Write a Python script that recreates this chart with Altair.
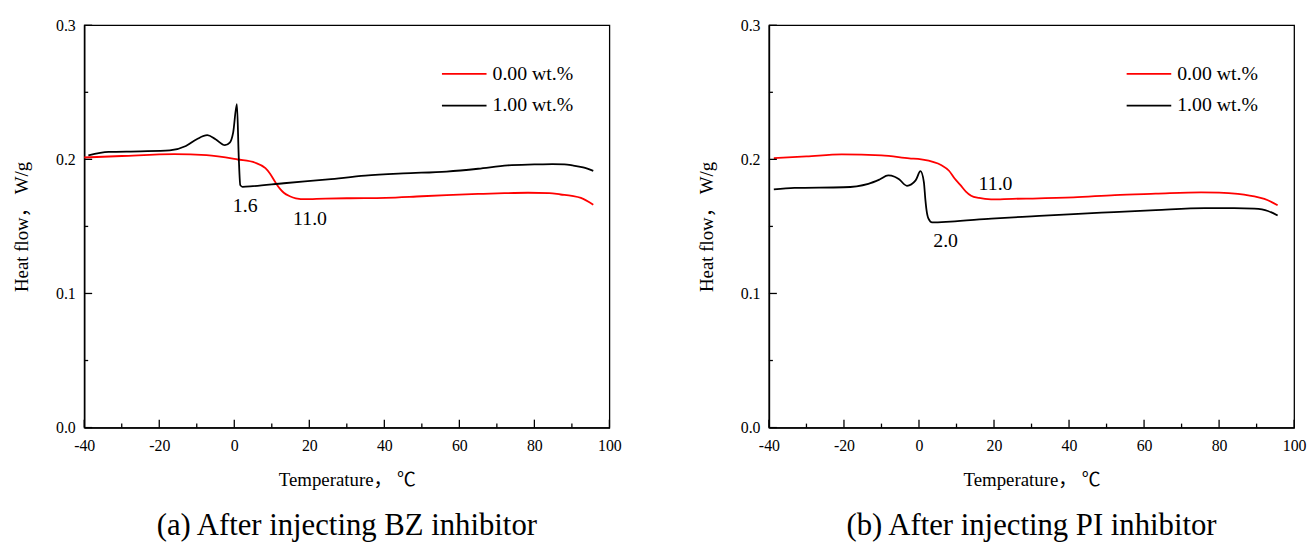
import altair as alt
import pandas as pd

series_names = ["0.00 wt.%", "1.00 wt.%"]
series_colors = ["#ff0000", "#000000"]

# ---- Panel (a): After injecting BZ inhibitor ----
a_red_t = [-40, -30, -16, -7.4, 0.9, 5.6, 8.3, 9.5, 11.0, 12.2, 13.2, 14.8, 16.4, 19, 21.9, 30, 40.3, 50, 56.6, 65, 72, 78.3, 84, 87.0, 90, 92.4, 95.7]
a_red_v = [0.2014, 0.2025, 0.2039, 0.2031, 0.1999, 0.1975, 0.1934, 0.1895, 0.1827, 0.1780, 0.1751, 0.1725, 0.1710, 0.1703, 0.1705, 0.1710, 0.1713, 0.1725, 0.1733, 0.1742, 0.1748, 0.1751, 0.1748, 0.1738, 0.1728, 0.1713, 0.1662]
a_blk_t = [-38.9, -33.5, -25, -17.2, -12.9, -10, -7.2, -5, -2.5, -1.2, -0.3, 0.7, 1.2, 1.6, 2.2, 5, 13.2, 25, 34.9, 45, 56.6, 65, 72.9, 80, 84.8, 88, 90.2, 93, 95.7]
a_blk_v = [0.2030, 0.2056, 0.2060, 0.2067, 0.2100, 0.2150, 0.2180, 0.2150, 0.2106, 0.2125, 0.2200, 0.2411, 0.2010, 0.1808, 0.1795, 0.1800, 0.1822, 0.1850, 0.1878, 0.1895, 0.1909, 0.1930, 0.1955, 0.1962, 0.1965, 0.1963, 0.1955, 0.1940, 0.1914]
a_ann_t = [2.9, 20.2]
a_ann_v = [0.1649, 0.1552]
a_ann_txt = ["1.6", "11.0"]
a_caption = "(a) After injecting BZ inhibitor"

# ---- Panel (b): After injecting PI inhibitor ----
b_red_t = [-38.7, -30, -20.6, -10, -2.6, 0.6, 6.0, 8, 9.5, 11, 12.5, 13.9, 16, 19.2, 25, 30.3, 41.2, 52.2, 63.1, 75.2, 80, 85.0, 90.5, 93, 95.6]
b_red_v = [0.2010, 0.2022, 0.2037, 0.2030, 0.2008, 0.2000, 0.1956, 0.1915, 0.1857, 0.1810, 0.1760, 0.1729, 0.1712, 0.1702, 0.1706, 0.1708, 0.1716, 0.1734, 0.1744, 0.1754, 0.1752, 0.1742, 0.1716, 0.1695, 0.1658]
b_blk_t = [-38.7, -33.2, -20.1, -13.5, -10.5, -8.2, -6.5, -5.3, -3.2, -0.9, 0.4, 1.3, 1.7, 2.0, 2.5, 3.5, 8.4, 19.3, 30, 41.2, 52, 63.1, 76.2, 84, 89.4, 93, 95.6]
b_blk_v = [0.1776, 0.1787, 0.1792, 0.1818, 0.1850, 0.1880, 0.1870, 0.1851, 0.1803, 0.1843, 0.1912, 0.1831, 0.1700, 0.1623, 0.1560, 0.1530, 0.1536, 0.1558, 0.1575, 0.1592, 0.1607, 0.1622, 0.1637, 0.1637, 0.1632, 0.1615, 0.1581]
b_ann_t = [20.4, 7.1]
b_ann_v = [0.1818, 0.1393]
b_ann_txt = ["11.0", "2.0"]
b_caption = "(b) After injecting PI inhibitor"

x_major = [-40, -20, 0, 20, 40, 60, 80, 100]
x_minor = [-30, -10, 10, 30, 50, 70, 90]
y_major = [0.0, 0.1, 0.2, 0.3]
y_minor = [0.05, 0.15, 0.25]

W, H = 530, 406
FONT = "Liberation Serif"
FONT_T = "Liberation Serif, Noto Sans CJK SC"

AXIS_STYLE = dict(
    domainColor="black", domainWidth=1.5, tickSize=0, grid=False,
    labelFont=FONT, labelFontSize=16, labelColor="black", labelFlush=False,
    titleFont=FONT_T, titleFontSize=19, titleFontWeight="normal", titleColor="black",
)


def x_enc():
    return alt.X(
        "T:Q",
        scale=alt.Scale(domain=[-40, 100], nice=False, zero=False),
        axis=alt.Axis(values=x_major, labelExpr="'' + datum.value", title="Temperature，  ℃",
                      labelPadding=10, titlePadding=17, **AXIS_STYLE),
    )


def y_enc():
    return alt.Y(
        "HF:Q",
        scale=alt.Scale(domain=[0, 0.3], nice=False),
        axis=alt.Axis(values=y_major, format=".1f", title="Heat flow，  W/g",
                      labelPadding=9, titlePadding=24, **AXIS_STYLE),
    )


def legend_row(name, color, ypix):
    d = pd.DataFrame({"series": [name]})
    line = alt.Chart(d).mark_rule(color=color, strokeWidth=1.8).encode(
        x=alt.value(361), x2=alt.value(406), y=alt.value(ypix))
    txt = alt.Chart(d).mark_text(font=FONT, fontSize=20, color="black", align="left",
                                 baseline="middle").encode(
        x=alt.value(412), y=alt.value(ypix), text="series:N")
    return [line, txt]


def panel(rt, rv, bt, bv, at, av, atxt, caption):
    df = pd.DataFrame({
        "T": rt + bt,
        "HF": rv + bv,
        "series": [series_names[0]] * len(rt) + [series_names[1]] * len(bt),
    })
    lines = alt.Chart(df).mark_line(strokeWidth=1.8, interpolate="monotone").encode(
        x=x_enc(),
        y=y_enc(),
        color=alt.Color("series:N", scale=alt.Scale(domain=series_names, range=series_colors),
                        legend=None),
    )
    xt_major = alt.Chart(pd.DataFrame({"T": x_major})).mark_rule(color="black", strokeWidth=1.3).encode(
        x=x_enc(), y=alt.value(H), y2=alt.value(H - 8))
    xt_minor = alt.Chart(pd.DataFrame({"T": x_minor})).mark_rule(color="black", strokeWidth=1.3).encode(
        x=x_enc(), y=alt.value(H), y2=alt.value(H - 4))
    yt_major = alt.Chart(pd.DataFrame({"HF": y_major})).mark_rule(color="black", strokeWidth=1.3).encode(
        y=y_enc(), x=alt.value(0), x2=alt.value(8))
    yt_minor = alt.Chart(pd.DataFrame({"HF": y_minor})).mark_rule(color="black", strokeWidth=1.3).encode(
        y=y_enc(), x=alt.value(0), x2=alt.value(4))
    ann = alt.Chart(pd.DataFrame({"T": at, "HF": av, "label": atxt})).mark_text(
        font=FONT, fontSize=20, color="black").encode(x=x_enc(), y=y_enc(), text="label:N")
    leg = legend_row(series_names[0], series_colors[0], 49) + legend_row(series_names[1], series_colors[1], 81)
    return alt.layer(lines, xt_major, xt_minor, yt_major, yt_minor, ann, *leg).properties(
        width=W, height=H,
        title=alt.TitleParams(caption, orient="bottom", fontSize=31, font=FONT,
                              fontWeight="normal", color="black", offset=22, anchor="middle"),
    )


pa = panel(a_red_t, a_red_v, a_blk_t, a_blk_v, a_ann_t, a_ann_v, a_ann_txt, a_caption)
pb = panel(b_red_t, b_red_v, b_blk_t, b_blk_v, b_ann_t, b_ann_v, b_ann_txt, b_caption)

chart = alt.hconcat(pa, pb, spacing=75).properties(
    padding={"left": 12, "top": 14, "right": 0, "bottom": 0}
).configure_view(
    stroke="black", strokeWidth=1.3
)

chart.save("out.html", embed_options={"renderer": "svg", "actions": False})
